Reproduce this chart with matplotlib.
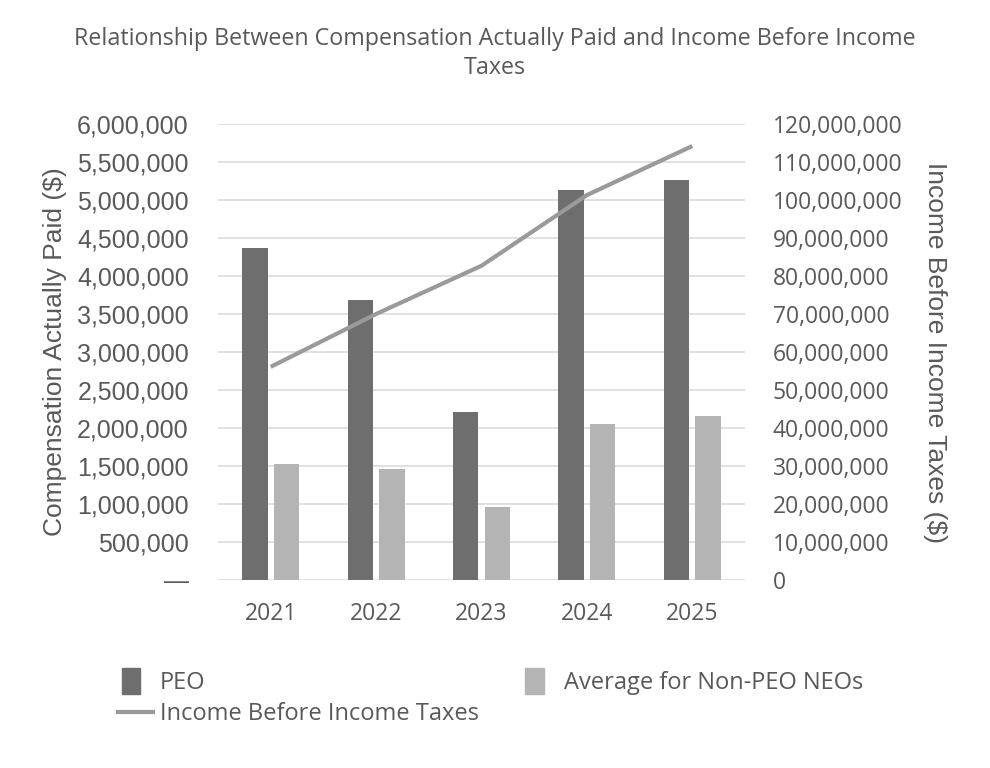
import matplotlib
matplotlib.use("Agg")
import matplotlib.pyplot as plt
from matplotlib.patches import Patch, Rectangle
from matplotlib.lines import Line2D
from matplotlib.legend_handler import HandlerPatch
import numpy as np

years = ["2021", "2022", "2023", "2024", "2025"]
peo = [4370000, 3690000, 2215000, 5130000, 5260000]
non_peo = [1530000, 1455000, 955000, 2055000, 2160000]
income = [56100000, 70000000, 82700000, 101300000, 114200000]

TEXT = "#595959"
CAL = "Open Sans"
ARIAL = "Liberation Sans"

fig = plt.figure(figsize=(9.9, 7.68), dpi=100)
ax = fig.add_axes([0.2202, 0.2448, 0.5323, 0.5937])
ax2 = ax.twinx()

x = np.arange(len(years))
ax.bar(x - 0.15, peo, width=0.24, color="#6e6e6e", zorder=3)
ax.bar(x + 0.15, non_peo, width=0.24, color="#b4b4b4", zorder=3)
ax2.plot(x, income, color="#9a9a9a", lw=3, solid_capstyle="butt", zorder=4)

ax.set_xlim(-0.5, 4.5)
ax.set_ylim(0, 6000000)
ax2.set_ylim(0, 120000000)

left_ticks = np.arange(0, 6000001, 500000)
right_ticks = np.arange(0, 120000001, 10000000)
ax.set_yticks(left_ticks)
ax.set_yticklabels(["\u2014" if v == 0 else f"{v:,.0f}" for v in left_ticks],
                   fontfamily=ARIAL, fontsize=18, color=TEXT)
ax2.set_yticks(right_ticks)
ax2.set_yticklabels([f"{v:,.0f}" for v in right_ticks],
                    fontfamily=CAL, fontsize=16.5, color=TEXT)

ax.grid(axis="y", color="#d9d9d9", lw=1.1, zorder=0)
ax.set_axisbelow(True)
for a in (ax, ax2):
    for s in a.spines.values():
        s.set_visible(False)

ax.set_xticks(x)
ax.set_xticklabels(years, fontfamily=CAL, fontsize=16.5, color=TEXT)
ax.tick_params(axis="x", length=0, pad=16)
ax.tick_params(axis="y", length=0, pad=21)
ax2.tick_params(axis="y", length=0, pad=20)

ax.set_ylabel("Compensation Actually Paid ($)", fontfamily=ARIAL, fontsize=19,
              color=TEXT, va="center")
ax.yaxis.set_label_coords(-0.309, 0.5)
ax2.set_ylabel("Income Before Income Taxes ($)", fontfamily=ARIAL, fontsize=19,
               color=TEXT, rotation=270, va="center")
ax2.yaxis.set_label_coords(1.36, 0.5)

fig.text(0.5, 1 - 27 / 768, "Relationship Between Compensation Actually Paid and Income Before Income\nTaxes",
         ha="center", va="top", fontfamily=CAL, fontsize=16.75, color=TEXT, linespacing=1.3)


def square(legend, orig_handle, xdescent, ydescent, width, height, fontsize):
    return Rectangle((-xdescent + 0.11 * width, -ydescent - 0.3 * height), 0.52 * width, 1.6 * height)


handles = [Patch(color="#6e6e6e"), Line2D([], [], color="#9a9a9a", lw=3),
           Patch(color="#b4b4b4")]
labels = ["PEO", "Income Before Income Taxes", "Average for Non-PEO NEOs"]
fig.legend(handles, labels, loc="upper left", bbox_to_anchor=(118 / 990, 1 - 671 / 768),
           ncol=2, frameon=False, borderpad=0, borderaxespad=0,
           handlelength=1.48, handletextpad=0.3, columnspacing=1.8, labelspacing=0.3,
           prop={"family": CAL, "size": 17}, labelcolor=TEXT,
           handler_map={Patch: HandlerPatch(patch_func=square)})

fig.savefig("out.png", dpi=100)
